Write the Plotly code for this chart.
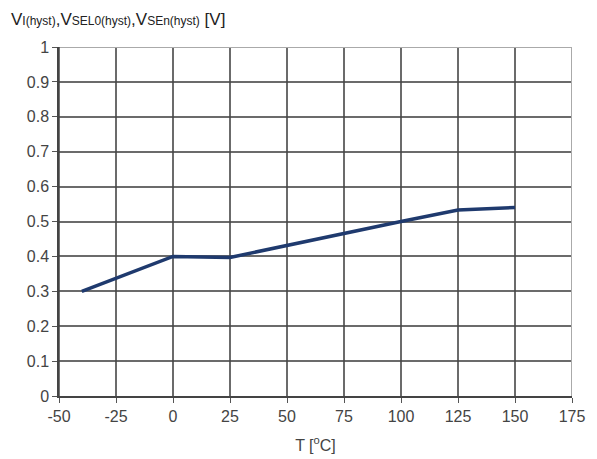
import plotly.graph_objects as go

temps = [-40, 0, 25, 50, 75, 100, 125, 150]
vhyst = [0.30, 0.40, 0.397, 0.432, 0.466, 0.50, 0.533, 0.54]
x_ticks = [-50, -25, 0, 25, 50, 75, 100, 125, 150, 175]
x_ticklabels = ["-50", "-25", "0", "25", "50", "75", "100", "125", "150", "175"]
y_ticks = [0, 0.1, 0.2, 0.3, 0.4, 0.5, 0.6, 0.7, 0.8, 0.9, 1]
y_ticklabels = ["0", "0.1", "0.2", "0.3", "0.4", "0.5", "0.6", "0.7", "0.8", "0.9", "1"]

font = "Liberation Sans, Arial, sans-serif"
sub = '<span style="font-size:12px">{}</span>'
title_text = ("V" + sub.format("I(hyst)") + ",V" + sub.format("SEL0(hyst)") +
              ",V" + sub.format("SEn(hyst)") + " [V]")

fig = go.Figure()
fig.add_trace(go.Scatter(x=temps, y=vhyst, mode="lines",
                         line=dict(color="#1f3a6e", width=3.5), showlegend=False))

fig.update_layout(
    width=589, height=451,
    margin=dict(l=51, r=25, t=39, b=63),
    paper_bgcolor="white", plot_bgcolor="white",
    font=dict(family=font, size=16, color="#444444"),
    xaxis=dict(range=[-50, 175], tickvals=x_ticks, ticktext=x_ticklabels,
               ticks="outside", ticklen=5, automargin=False,
               tickcolor="#555555", showgrid=True, gridcolor="rgba(70,70,70,0.8)",
               gridwidth=1.5, zeroline=False, showline=True, linecolor="#444444",
               linewidth=1.5, mirror=False,
               title=dict(text="T [<sup>o</sup>C]", font=dict(size=16, color="#444444"), standoff=16)),
    yaxis=dict(range=[0, 1], tickvals=y_ticks, ticktext=y_ticklabels, ticks="outside",
               ticklen=5, tickcolor="#555555", showgrid=True, automargin=False,
               gridcolor="rgba(70,70,70,0.8)", gridwidth=1.5, zeroline=False,
               showline=True, linecolor="#444444", linewidth=1.5),
    annotations=[dict(text=title_text,
                      xref="paper", yref="paper", x=-50/513, y=1 + 16/349,
                      xanchor="left", yanchor="bottom", showarrow=False,
                      font=dict(size=17, color="#222222"))],
    shapes=[dict(type="line", xref="x", yref="y", x0=175, x1=175, y0=0, y1=1,
                 line=dict(color="#aaaaaa", width=2), layer="above"),
            dict(type="line", xref="x", yref="y", x0=-50, x1=175, y0=1, y1=1,
                 line=dict(color="#aaaaaa", width=2), layer="above"),
            dict(type="line", xref="x", yref="y", x0=-50, x1=-50, y0=0, y1=1,
                 line=dict(color="#444444", width=1.5), layer="above")],
)
fig.write_html("out.html")
